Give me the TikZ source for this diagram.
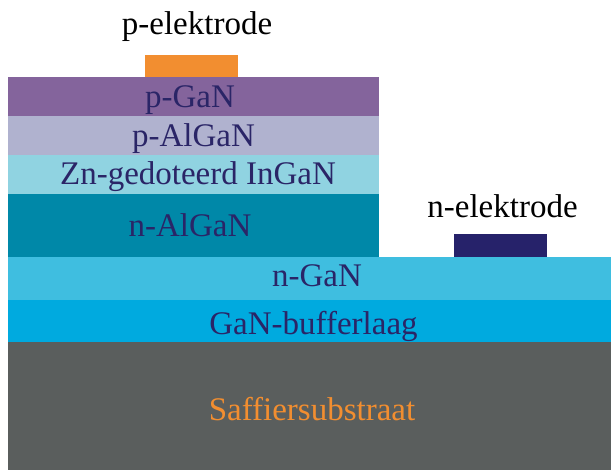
\documentclass[tikz,border=0pt]{standalone}
\usepackage{fontspec}
\setmainfont{Liberation Serif}
\definecolor{pel}{HTML}{F28E30}
\definecolor{pgan}{HTML}{84649C}
\definecolor{palgan}{HTML}{B0B2CF}
\definecolor{ingan}{HTML}{90D3E1}
\definecolor{nalgan}{HTML}{0088A8}
\definecolor{ngan}{HTML}{3FBEE0}
\definecolor{buf}{HTML}{00AADF}
\definecolor{sub}{HTML}{5A5E5D}
\definecolor{nel}{HTML}{26226A}
\definecolor{txt}{HTML}{2A2567}
\tikzset{
  lbl/.style={font=\fontsize{33}{35}\selectfont, text=txt, inner sep=0pt, anchor=base},
  elbl/.style={font=\fontsize{33}{35}\selectfont, text=black, inner sep=0pt, anchor=base}
}
\begin{document}
\begin{tikzpicture}[x=1pt,y=-1pt]
\useasboundingbox (0,0) rectangle (611,470);
\fill[sub] (8,342) rectangle (611,470);
\fill[buf] (8,300) rectangle (611,342);
\fill[ngan] (8,257) rectangle (611,300);
\fill[nalgan] (8,194) rectangle (379,257);
\fill[ingan] (8,155) rectangle (379,194);
\fill[palgan] (8,116) rectangle (379,155);
\fill[pgan] (8,77) rectangle (379,116);
\fill[pel] (145,55) rectangle (238,77.5);
\fill[nel] (454,234) rectangle (547,257);
\node[elbl] (pe) at (197,35) {p-elektrode};
\node[elbl] (ne) at (502.5,217.5) {n-elektrode};
\node[lbl] (l1) at (190,108) {p-GaN};
\node[lbl] (l2) at (193.5,146.5) {p-AlGaN};
\node[lbl] (l3) at (198,184.3) {Zn-gedoteerd InGaN};
\node[lbl] (l4) at (190,236.5) {n-AlGaN};
\node[lbl] (l5) at (317,287) {n-GaN};
\node[lbl] (l6) at (313.5,335) {GaN-bufferlaag};
\node[lbl, text=pel] (l7) at (312,421) {Saffiersubstraat};
\end{tikzpicture}
\end{document}
